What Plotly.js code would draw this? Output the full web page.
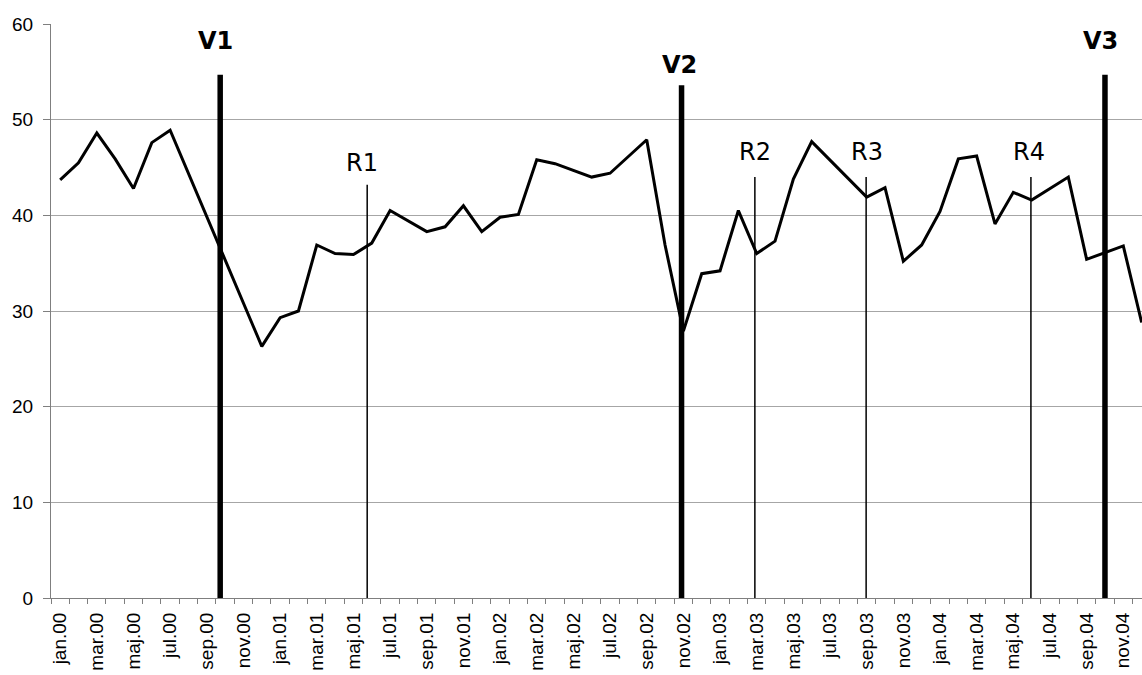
<!DOCTYPE html>
<html>
<head>
<meta charset="utf-8">
<script src="https://cdn.plot.ly/plotly-3.0.1.min.js"></script>
<style>html,body{margin:0;padding:0;background:#fff;overflow:hidden}#chart{width:1142px;height:675px}</style>
</head>
<body>
<div id="chart"></div>
<script>
// Month categories (jan.00 .. dec.04)
var months = [
  "jan.00","feb.00","mar.00","apr.00","maj.00","jun.00","jul.00","aug.00","sep.00","okt.00","nov.00","dec.00",
  "jan.01","feb.01","mar.01","apr.01","maj.01","jun.01","jul.01","aug.01","sep.01","okt.01","nov.01","dec.01",
  "jan.02","feb.02","mar.02","apr.02","maj.02","jun.02","jul.02","aug.02","sep.02","okt.02","nov.02","dec.02",
  "jan.03","feb.03","mar.03","apr.03","maj.03","jun.03","jul.03","aug.03","sep.03","okt.03","nov.03","dec.03",
  "jan.04","feb.04","mar.04","apr.04","maj.04","jun.04","jul.04","aug.04","sep.04","okt.04","nov.04","dec.04"
];
// Series values (null = month without a value, line is connected across)
var values = [
  43.7, 45.5, 48.6, 45.9, 42.8, 47.6, 48.9, null, null, null, null, 26.3,
  29.3, 30.0, 36.9, 36.0, 35.9, 37.1, 40.5, null, 38.3, 38.8, 41.0, 38.3,
  39.8, 40.1, 45.8, 45.4, null, 44.0, 44.4, null, 47.9, 36.9, 27.9, 33.9,
  34.2, 40.5, 36.0, 37.3, 43.8, 47.7, null, null, 41.9, 42.9, 35.2, 36.9,
  40.4, 45.9, 46.2, 39.1, 42.4, 41.6, null, 44.0, 35.4, null, 36.8, 28.8
];
// Event markers (V = major, R = minor), placed on the month axis
var eventNames = ["V1", "R1", "V2", "R2", "R3", "R4", "V3"];
var eventMonth = [8.73, 16.75, 33.9, 37.9, 43.97, 52.96, 57.0];
var eventTop   = [54.7, 43.2, 53.6, 44.0, 44.0, 44.0, 54.7];
var eventMajor = [true, false, true, false, false, false, true];
var labelMonth = [8.45, 16.49, 33.8, 37.88, 44.0, 52.84, 56.78];
var labelLevel = [56.5, 43.77, 54.06, 44.99, 44.99, 44.99, 56.5];

var xIdx = months.map(function(m, i){ return i; });
var tickVals = [], tickText = [];
months.forEach(function(m, i){ if (i % 2 === 0) { tickVals.push(i); tickText.push(m); } });

var trace = {
  x: xIdx, y: values, type: 'scatter', mode: 'lines',
  connectgaps: true,
  line: {color: '#000000', width: 3},
  hoverinfo: 'skip'
};

var shapes = [], annotations = [];
eventNames.forEach(function(n, k){
  var major = eventMajor[k];
  shapes.push({
    type: 'line', xref: 'x', yref: 'y', layer: 'above',
    x0: eventMonth[k], x1: eventMonth[k], y0: 0, y1: eventTop[k],
    line: {color: '#000000', width: major ? 5.5 : 1.5}
  });
  annotations.push({
    xref: 'x', yref: 'y', x: labelMonth[k], y: labelLevel[k],
    yanchor: 'bottom', xanchor: 'center', showarrow: false,
    text: major ? '<b>' + n + '</b>' : n,
    font: {family: 'DejaVu Sans, Verdana, sans-serif', size: 24, color: '#000000'}
  });
});

var layout = {
  width: 1142, height: 675,
  margin: {l: 50.5, r: 0, t: 23.5, b: 76.5, pad: 0},
  paper_bgcolor: '#ffffff', plot_bgcolor: '#ffffff',
  showlegend: false,
  font: {family: 'Liberation Sans, Arial, sans-serif', size: 19, color: '#000000'},
  xaxis: {
    range: [-0.5, 59.02], autorange: false, fixedrange: true,
    tickmode: 'array', tickvals: tickVals, ticktext: tickText,
    tickangle: -90, ticks: '', showgrid: false, zeroline: false,
    showline: true, linecolor: '#7f7f7f', linewidth: 1,
    ticklabelstandoff: 6,
    minor: {ticks: 'outside', ticklen: 5, tickcolor: '#7f7f7f', tick0: -0.5, dtick: 1, showgrid: false},
    tickfont: {family: 'Liberation Sans, Arial, sans-serif', size: 19, color: '#000000'},
    automargin: false
  },
  yaxis: {
    range: [0, 60], autorange: false, fixedrange: true,
    tickmode: 'linear', tick0: 0, dtick: 10,
    ticks: 'outside', ticklen: 7, tickcolor: '#7f7f7f',
    showgrid: true, gridcolor: '#a6a6a6', gridwidth: 1,
    zeroline: false, showline: true, linecolor: '#7f7f7f', linewidth: 1,
    ticklabelstandoff: 6,
    tickfont: {family: 'Liberation Sans, Arial, sans-serif', size: 19, color: '#000000'},
    automargin: false
  },
  shapes: shapes,
  annotations: annotations
};

Plotly.newPlot('chart', [trace], layout, {displayModeBar: false, staticPlot: true});
</script>
</body>
</html>
